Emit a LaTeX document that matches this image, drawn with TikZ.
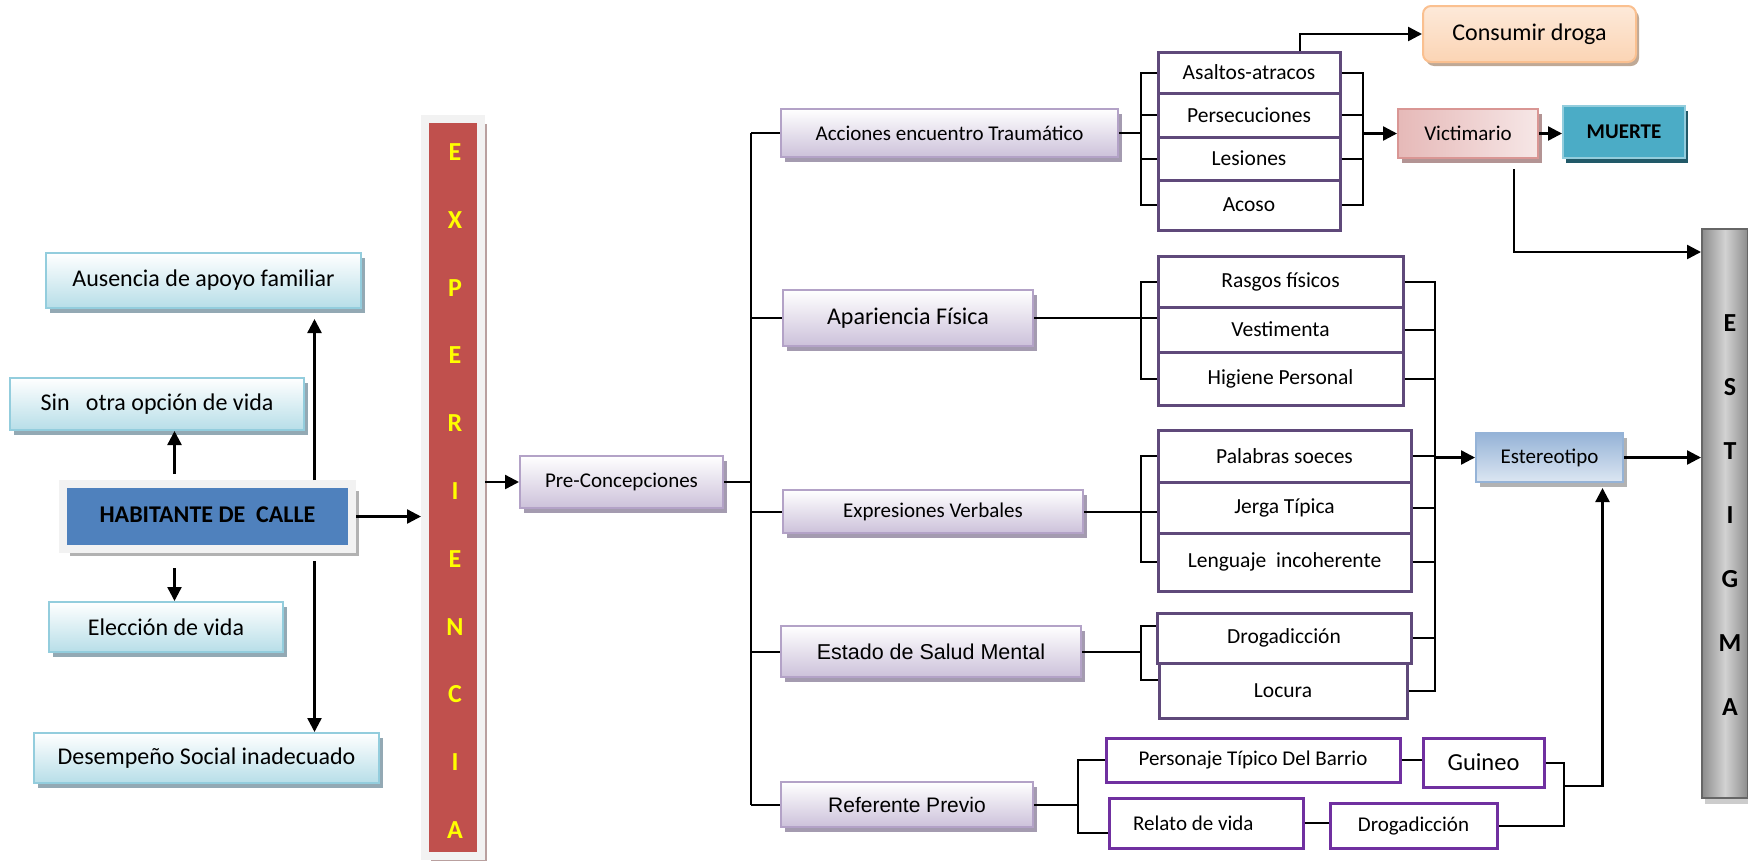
\documentclass[tikz,border=0pt]{standalone}
\usepackage{fontspec}
\setmainfont{Carlito}
\newfontfamily\arialfont{Liberation Sans}
\usetikzlibrary{positioning,calc,shadows,arrows.meta}
\definecolor{cajaborde}{HTML}{93CDDD}
\definecolor{cajafondo}{HTML}{B7DEE8}
\definecolor{cajasombra}{HTML}{93A9B4}
\definecolor{azulhab}{HTML}{4F81BD}
\definecolor{marco}{HTML}{F2F2F2}
\definecolor{rojoexp}{HTML}{C0504D}
\definecolor{expsombra}{HTML}{B9A09F}
\definecolor{lilaborde}{HTML}{B3A2C7}
\definecolor{lilafondo}{HTML}{CCC1DA}
\definecolor{lilasombra}{HTML}{A49BB0}
\definecolor{moradoitem}{HTML}{5F497A}
\definecolor{moradoref}{HTML}{7030A0}
\definecolor{rosaborde}{HTML}{D99694}
\definecolor{rosafondo}{HTML}{E6B9B8}
\definecolor{rosasombra}{HTML}{B39494}
\definecolor{muerte}{HTML}{4BACC6}
\definecolor{muertesombra}{HTML}{215968}
\definecolor{naranjaborde}{HTML}{FAC090}
\definecolor{naranjafondo}{HTML}{FBD4B4}
\definecolor{naranjasombra}{HTML}{BFA996}
\definecolor{azulester}{HTML}{95B3D7}
\definecolor{azulclaro}{HTML}{DCE6F2}
\definecolor{amarillo}{HTML}{FFFF00}

\begin{document}
\begin{tikzpicture}[x=1pt,y=-1pt,
  flecha/.style={-{Triangle[length=14pt,width=14pt]},line width=2.4pt},
  rama/.style={line width=2pt},
  causa/.style={draw=cajaborde,line width=2pt,top color=white,bottom color=cajafondo,
    drop shadow={shadow xshift=4pt,shadow yshift=-5pt,fill=cajasombra,opacity=1},
    inner sep=0pt,font=\fontsize{24}{28}\selectfont},
  categoria/.style={draw=lilaborde,line width=2pt,top color=white,bottom color=lilafondo,
    drop shadow={shadow xshift=4pt,shadow yshift=-5pt,fill=lilasombra,opacity=1},
    inner sep=0pt,font=\fontsize{21}{25}\selectfont},
  item/.style={draw=moradoitem,line width=3pt,fill=white,inner sep=0pt,font=\fontsize{21.5}{25}\selectfont},
  refitem/.style={draw=moradoref,line width=3pt,fill=white,inner sep=0pt,font=\fontsize{21}{25}\selectfont},
  letra/.style={font=\fontsize{26}{30}\selectfont\bfseries}]
\useasboundingbox (0,0) rectangle (1748,863);

% causas
\node[causa,minimum width=315pt,minimum height=55pt] (ausencia) at (203.5,280.5) {Ausencia de apoyo familiar};
\node[causa,minimum width=294pt,minimum height=52pt] (sinopcion) at (157,404) {Sin\ \ \ otra opción de vida};
\node[causa,minimum width=234pt,minimum height=50pt] (eleccion) at (166,627) {Elección de vida};
\node[causa,minimum width=345pt,minimum height=50pt] (desempeno) at (206.5,758) {Desempeño Social inadecuado};
\node[draw=marco,line width=8pt,fill=azulhab,minimum width=289pt,minimum height=65pt,inner sep=0pt,
  drop shadow={shadow xshift=7pt,shadow yshift=-7pt,fill=gray!60,opacity=1},
  font=\fontsize{24}{28}\selectfont\bfseries] (habitante) at (207.5,516.5) {\raisebox{3pt}{HABITANTE DE\ \ CALLE}};

% experiencia
\node[draw=marco,line width=8pt,fill=rojoexp,minimum width=56pt,minimum height=737pt,inner sep=0pt,
  drop shadow={shadow xshift=6pt,shadow yshift=-5pt,fill=expsombra,opacity=1}] (experiencia) at (453,487.5) {};
\foreach \l [count=\i from 0] in {E,X,P,E,R,I,E,N,C,I,A}
  \node[letra,text=amarillo] (exp\i) at (455,{152+67.8*\i}) {\l};

% categorias
\node[categoria,minimum width=203pt,minimum height=52pt] (pre) at (621.5,482) {Pre-Concepciones};
\node[categoria,minimum width=337pt,minimum height=48pt] (acciones) at (949.5,133) {Acciones encuentro Traumático};
\node[categoria,minimum width=250pt,minimum height=56pt,font=\fontsize{24}{28}\selectfont] (apariencia) at (908,318) {Apariencia Física};
\node[categoria,minimum width=300pt,minimum height=43pt,font=\fontsize{21}{25}\selectfont] (expresiones) at (933,511.5) {Expresiones Verbales};
\node[categoria,minimum width=300pt,minimum height=51pt,font=\arialfont\fontsize{21.5}{25}\selectfont] (estado) at (931,651.5) {Estado de Salud Mental};
\node[categoria,minimum width=252pt,minimum height=45pt,font=\arialfont\fontsize{21}{25}\selectfont] (referente) at (907,804.5) {Referente Previo};

% acciones
\node[item,minimum width=182pt,minimum height=41pt] (asaltos) at (1249,72.5) {Asaltos-atracos};
\node[item,minimum width=182pt,minimum height=44pt] (persecuciones) at (1249,115) {Persecuciones};
\node[item,minimum width=182pt,minimum height=43pt] (lesiones) at (1249,158.5) {Lesiones};
\node[item,minimum width=182pt,minimum height=50pt] (acoso) at (1249,205) {Acoso};
% apariencia
\node[item,minimum width=245pt,minimum height=51pt] (rasgos) at (1280.5,281.5) {Rasgos físicos};
\node[item,minimum width=245pt,minimum height=45pt] (vestimenta) at (1280.5,329.5) {Vestimenta};
\node[item,minimum width=245pt,minimum height=53pt] (higiene) at (1280.5,378.5) {Higiene Personal};
% expresiones
\node[item,minimum width=253pt,minimum height=52pt] (palabras) at (1284.5,456) {Palabras soeces};
\node[item,minimum width=253pt,minimum height=51pt] (jerga) at (1284.5,507.5) {Jerga Típica};
\node[item,minimum width=253pt,minimum height=58pt] (lenguaje) at (1284.5,562) {Lenguaje\ \ incoherente};
% estado
\node[item,minimum width=254pt,minimum height=50pt] (drogadiccion) at (1284,638) {Drogadicción};
\node[item,minimum width=248pt,minimum height=55pt] (locura) at (1283,690.5) {Locura};
% referente
\node[refitem,minimum width=294pt,minimum height=44pt] (personaje) at (1253,760) {Personaje Típico Del Barrio};
\node[refitem,minimum width=194pt,minimum height=50pt,text width=146pt,align=flush left] (relato) at (1206,823) {Relato de vida};
\node[refitem,minimum width=121pt,minimum height=49pt,font=\fontsize{24.5}{28}\selectfont] (guineo) at (1483.5,762.5) {Guineo};
\node[refitem,minimum width=167pt,minimum height=45pt] (drogref) at (1413.5,825.5) {Drogadicción};

% consecuencias
\node[draw=naranjaborde,line width=2pt,rounded corners=8pt,top color=naranjafondo!50,bottom color=naranjafondo,
  drop shadow={shadow xshift=3pt,shadow yshift=-4pt,fill=naranjasombra,opacity=1},
  minimum width=213pt,minimum height=56pt,inner sep=0pt,font=\fontsize{24}{28}\selectfont] (consumir) at (1529.5,34) {Consumir droga};
\node[draw=rosaborde,line width=2pt,left color=rosafondo,right color=rosafondo!35,
  drop shadow={shadow xshift=4pt,shadow yshift=-5pt,fill=rosasombra,opacity=1},
  minimum width=140pt,minimum height=49pt,inner sep=0pt,font=\fontsize{21}{25}\selectfont] (victimario) at (1468,133.5) {Victimario};
\node[draw=cajaborde,line width=2pt,fill=muerte,
  drop shadow={shadow xshift=3pt,shadow yshift=-5pt,fill=muertesombra,opacity=1},
  minimum width=122pt,minimum height=52pt,inner sep=0pt,font=\fontsize{21}{25}\selectfont\bfseries] (muerte) at (1624,132) {MUERTE};
\node[draw=azulester,line width=2pt,top color=azulester,bottom color=azulclaro,
  drop shadow={shadow xshift=4pt,shadow yshift=-5pt,fill=gray!60,opacity=1},
  minimum width=147pt,minimum height=49pt,inner sep=0pt,font=\fontsize{21}{25}\selectfont] (estereotipo) at (1549.5,457.5) {Estereotipo};
\node[draw=gray!80!black,line width=2pt,left color=gray!90,right color=gray!90,middle color=gray!35,
  drop shadow={shadow xshift=3pt,shadow yshift=-6pt,fill=gray!40,opacity=1},
  minimum width=46pt,minimum height=569pt,inner sep=0pt] (estigma) at (1725,513.5) {};
\foreach \l [count=\i from 0] in {E,S,T,I,G,M,A}
  \node[letra] (est\i) at (1730,{323+64*\i}) {\l};

% habitante de calle
\coordinate (hArr1) at ([xshift=-33pt,yshift=6pt]habitante.north);
\coordinate (hArr2) at ([xshift=107pt]habitante.north);
\coordinate (hArr3) at ([xshift=-33pt,yshift=-15pt]habitante.south);
\coordinate (hArr4) at ([xshift=107pt,yshift=-8pt]habitante.south);
\draw[flecha] (hArr1) -- (hArr1 |- sinopcion.south);
\draw[flecha,shorten >=10pt] (hArr2) -- (hArr2 |- ausencia.south);
\draw[flecha] (hArr3) -- (hArr3 |- eleccion.north);
\draw[flecha] (hArr4) -- (hArr4 |- desempeno.north);
\draw[flecha] (habitante.east) -- (habitante.east -| experiencia.west);
\draw[flecha] (pre.west -| experiencia.east) -- (pre.west);

% tronco
\coordinate (tronco) at (751,0);
\draw[rama] (acciones.west -| tronco) -- (referente.west -| tronco);
\draw[rama] (pre.east) -- (pre.east -| tronco);
\foreach \n in {acciones,apariencia,expresiones,estado,referente}
  \draw[rama] (\n.west -| tronco) -- (\n.west);

% corchetes izquierdos
\coordinate (corchete) at (1141,0);
\draw[rama] (acciones.east) -- (acciones.east -| corchete);
\draw[rama] (asaltos.west) -- (asaltos.west -| corchete) -- (acoso.west -| corchete) -- (acoso.west);
\foreach \n in {persecuciones,lesiones}
  \draw[rama] (\n.west -| corchete) -- (\n.west);
\draw[rama] (apariencia.east) -- (apariencia.east -| vestimenta.west);
\draw[rama] (rasgos.west) -- (rasgos.west -| corchete) -- (higiene.west -| corchete) -- (higiene.west);
\draw[rama] (expresiones.east) -- (expresiones.east -| jerga.west);
\draw[rama] (palabras.west) -- (palabras.west -| corchete) -- (lenguaje.west -| corchete) -- (lenguaje.west);
\draw[rama] (estado.east) -- (estado.east -| corchete);
\coordinate (dTick) at ([yshift=12pt]drogadiccion.west);
\coordinate (lTick) at ([yshift=11pt]locura.west);
\draw[rama] (dTick) -- (dTick -| corchete) -- (lTick -| corchete) -- (lTick);

% acciones -> victimario
\coordinate (corcheteA) at (1363,0);
\draw[rama] (asaltos.east) -- (asaltos.east -| corcheteA) -- (acoso.east -| corcheteA) -- (acoso.east);
\foreach \n in {persecuciones,lesiones}
  \draw[rama] (\n.east) -- (\n.east -| corcheteA);
\draw[flecha] (victimario.west -| corcheteA) -- (victimario.west);
\draw[flecha] (victimario.east) -- (victimario.east -| muerte.west);
\draw[flecha] ([xshift=51pt]asaltos.north) |- (consumir.west);
\coordinate (vBaja) at ([xshift=46pt,yshift=-10pt]victimario.south);
\coordinate (eAlta) at ([yshift=-24pt]estigma.north west);
\draw[flecha] (vBaja) |- (eAlta);

% estereotipo
\coordinate (corcheteB) at (1435,0);
\draw[rama] (rasgos.east) -- (rasgos.east -| corcheteB) -- (locura.east -| corcheteB) -- (locura.east);
\foreach \n in {vestimenta,higiene,palabras,jerga,lenguaje,drogadiccion}
  \draw[rama] (\n.east) -- (\n.east -| corcheteB);
\draw[flecha] (estereotipo.west -| corcheteB) -- (estereotipo.west);
\draw[flecha] (estereotipo.east) -- (estereotipo.east -| estigma.west);

% referente previo
\coordinate (corcheteC) at (1078,0);
\draw[rama] (referente.east) -- (referente.east -| corcheteC);
\coordinate (rTick) at ([yshift=-10pt]relato.west);
\draw[rama] (personaje.west) -- (personaje.west -| corcheteC) -- (rTick -| corcheteC) -- (rTick);
\draw[rama] (personaje.east) -- (personaje.east -| guineo.west);
\draw[rama] (relato.east) -- (relato.east -| drogref.west);
\coordinate (corcheteD) at (1564,0);
\draw[rama] (guineo.east) -- (guineo.east -| corcheteD) -- (drogref.east -| corcheteD) -- (drogref.east);
\coordinate (uneG) at (1564,786);
\coordinate (subeE) at ([xshift=53pt,yshift=-5pt]estereotipo.south);
\draw[flecha] (uneG) -| (subeE);
\end{tikzpicture}
\end{document}
